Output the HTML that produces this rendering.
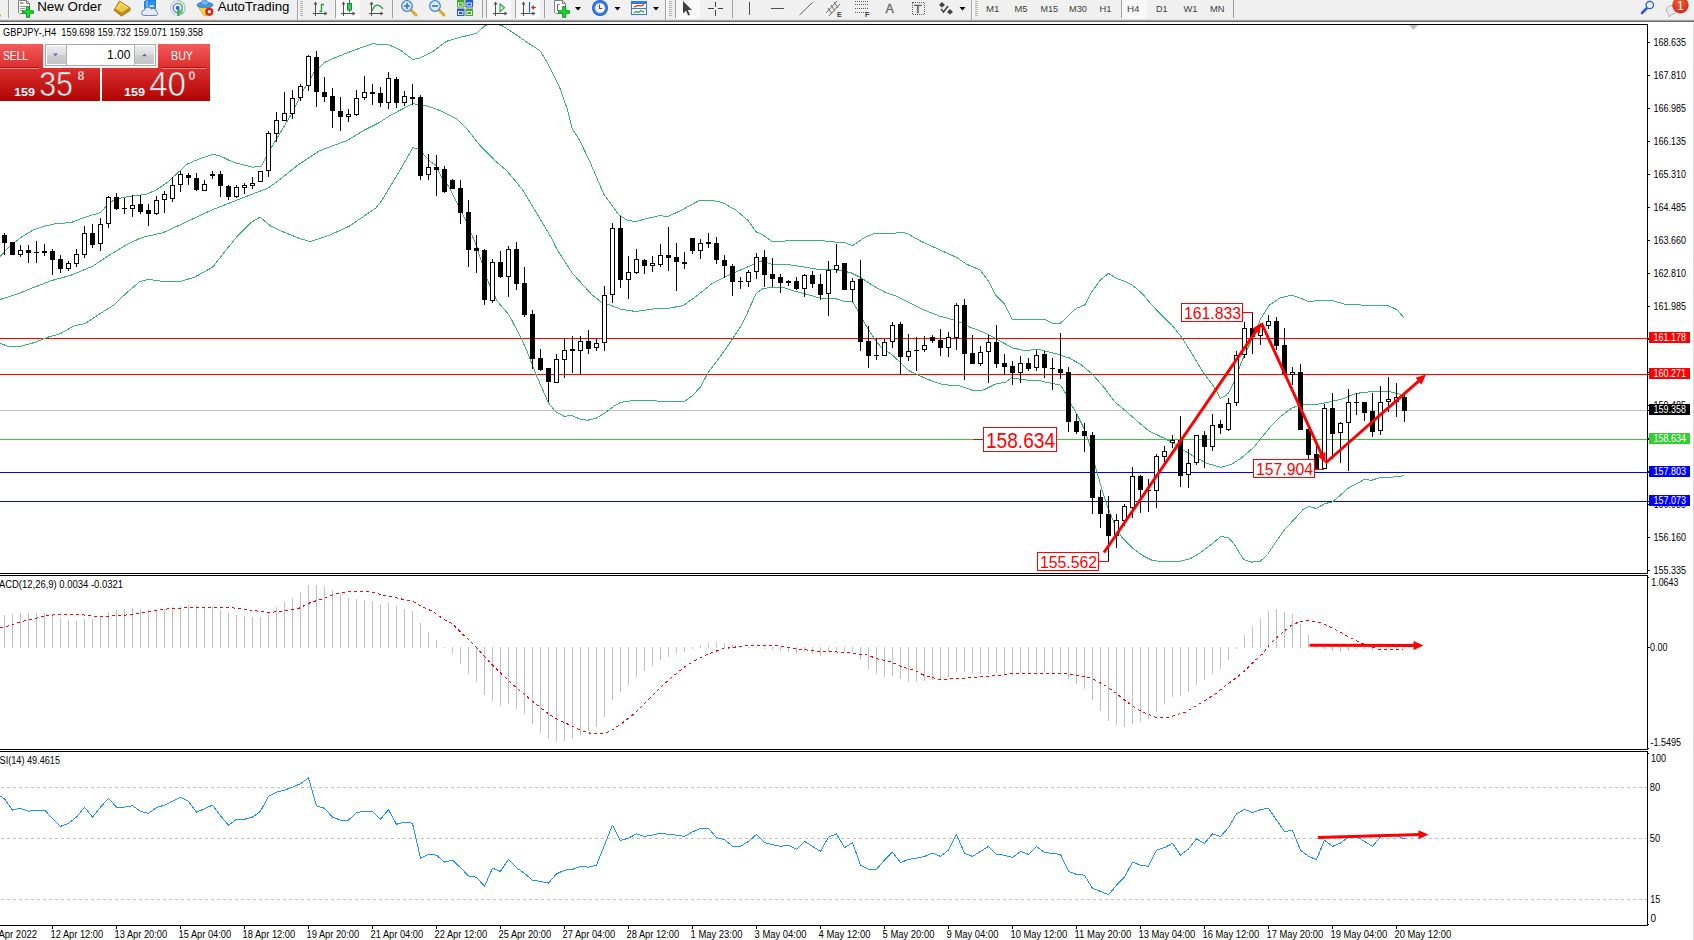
<!DOCTYPE html>
<html><head><meta charset="utf-8"><title>GBPJPY H4</title>
<style>html,body{margin:0;padding:0;background:#fff;overflow:hidden}svg{display:block}</style>
</head><body>
<svg width="1694" height="940" viewBox="0 0 1694 940" font-family='"Liberation Sans", sans-serif'>
<defs>
<linearGradient id="gred" gradientUnits="userSpaceOnUse" x1="0" y1="44" x2="0" y2="101"><stop offset="0" stop-color="#f45a5a"/><stop offset="0.42" stop-color="#dc2e2e"/><stop offset="1" stop-color="#b00404"/></linearGradient>
<linearGradient id="gbtn" x1="0" y1="0" x2="0" y2="1"><stop offset="0" stop-color="#ececec"/><stop offset="0.5" stop-color="#dcdcdc"/><stop offset="0.5" stop-color="#cfcfcf"/><stop offset="1" stop-color="#c4c4c4"/></linearGradient>
<radialGradient id="gbadge" cx="0.45" cy="0.3" r="0.8"><stop offset="0" stop-color="#f0603a"/><stop offset="1" stop-color="#d41f10"/></radialGradient>
<clipPath id="cmain"><rect x="0" y="25" width="1647" height="548"/></clipPath>
<clipPath id="cmacd"><rect x="0" y="576" width="1647" height="173"/></clipPath>
<clipPath id="crsi"><rect x="0" y="752" width="1647" height="173"/></clipPath>
</defs>
<rect width="1694" height="940" fill="#fff"/>
<g clip-path="url(#cmain)">
<g shape-rendering="crispEdges">
<rect x="0" y="338" width="1647" height="1" fill="#ff0000"/>
<rect x="0" y="374" width="1647" height="1" fill="#ff0000"/>
<rect x="0" y="410" width="1647" height="1" fill="#c0c0c0"/>
<rect x="0" y="439" width="1647" height="1" fill="#32cd32"/>
<rect x="0" y="472" width="1647" height="1" fill="#0000ff"/>
<rect x="0" y="501" width="1647" height="1" fill="#0000ff"/>
</g>
<polyline points="0.0,256.7 8.9,246.9 21.3,237.2 34.0,229.6 44.3,226.2 56.7,223.4 70.8,222.7 81.7,218.5 92.0,215.1 100.5,212.6 109.0,203.2 115.8,199.0 129.4,196.4 146.4,194.4 156.7,189.6 166.9,182.8 177.1,173.4 187.3,164.1 199.2,158.9 212.8,154.3 220.0,155.9 234.0,162.6 252.8,167.2 261.3,166.0 271.5,147.3 276.6,138.8 280.0,133.3 290.6,115.6 303.0,90.8 313.6,73.1 324.3,62.5 338.4,56.3 354.4,50.1 372.1,43.9 388.0,44.4 400.4,50.1 412.8,59.5 419.9,58.1 432.3,51.9 446.5,41.3 460.6,37.2 476.6,33.3 485.4,25.3 493.0,24.0 501.4,25.3 515.5,34.2 527.9,43.0 540.3,51.0 549.2,66.0 559.8,88.0 566.9,108.0 572.2,128.5 580.3,141.5 590.5,163.2 604.1,194.7 610.0,202.6 618.5,214.5 627.0,220.1 635.5,221.6 647.5,218.4 659.4,215.7 667.9,216.5 681.5,210.2 698.5,200.9 712.2,200.3 722.4,202.6 736.0,210.2 747.9,220.4 756.4,232.0 763.2,234.9 771.8,241.4 788.8,240.9 805.8,240.0 819.4,240.5 833.6,241.9 845.5,242.8 852.4,245.7 864.3,237.7 874.5,233.4 891.5,233.7 901.7,232.0 908.5,234.3 922.2,241.9 939.2,249.6 956.2,257.2 966.4,264.1 980.1,270.0 988.6,281.1 995.4,294.7 1003.9,303.2 1012.4,319.4 1030.0,319.6 1045.3,319.6 1052.1,323.0 1060.0,323.7 1072.8,311.1 1077.0,308.1 1084.7,305.1 1091.5,292.3 1100.0,280.4 1108.5,273.2 1115.3,277.9 1124.7,281.3 1131.5,284.7 1136.6,288.5 1143.4,294.9 1152.8,306.0 1167.2,320.9 1172.3,325.5 1181.7,337.4 1193.5,356.2 1203.7,373.2 1213.9,386.8 1220.4,398.4 1227.5,394.5 1234.3,381.7 1241.1,363.0 1246.2,351.1 1250.4,342.8 1260.6,318.9 1269.2,305.3 1279.4,298.2 1291.3,295.1 1301.5,298.5 1308.3,301.6 1321.9,300.2 1332.2,300.6 1345.8,304.5 1361.1,305.0 1374.7,305.7 1388.4,305.7 1396.9,309.6 1403.7,317.6" fill="none" stroke="#3cb371" stroke-width="1" stroke-linejoin="round" shape-rendering="crispEdges"/>
<polyline points="0.0,299.5 17.7,293.9 35.4,286.8 51.4,280.6 70.8,275.3 92.1,266.4 109.8,254.9 127.5,244.3 141.7,237.5 162.9,232.8 185.9,222.1 212.5,209.7 239.2,199.2 268.1,188.1 280.0,179.4 297.7,165.2 319.0,151.0 347.3,140.4 365.0,129.8 379.2,122.7 389.8,115.6 412.8,103.6 427.0,105.9 439.4,110.3 457.1,119.2 467.7,129.8 480.1,145.7 496.0,161.7 507.0,170.9 522.4,189.6 539.4,217.7 551.6,238.2 556.4,248.3 571.8,272.6 592.0,294.8 601.1,301.9 612.2,305.9 620.3,309.0 635.5,311.5 652.6,309.0 669.6,308.1 683.2,305.6 695.1,297.1 712.2,283.4 725.8,276.6 742.8,269.0 754.7,263.9 761.5,261.0 771.8,264.4 788.8,264.7 805.8,267.3 819.4,269.5 837.0,270.0 850.6,272.6 860.9,277.7 871.1,284.5 884.7,292.1 894.9,295.6 908.5,302.4 922.2,309.2 939.2,316.0 952.8,319.7 961.3,322.8 969.8,327.1 983.5,332.2 992.0,336.4 1003.9,343.2 1012.4,347.8 1024.3,350.6 1038.5,349.4 1055.5,353.6 1069.2,357.9 1081.1,364.7 1093.0,374.9 1104.9,388.5 1115.1,402.2 1125.4,410.7 1139.0,422.6 1149.2,431.1 1166.2,439.2 1176.4,445.0 1183.2,450.0 1193.5,456.2 1207.1,463.4 1220.7,467.3 1230.9,464.6 1241.1,458.3 1250.0,450.6 1253.8,447.2 1264.1,434.5 1270.9,426.2 1281.1,416.0 1291.3,408.3 1301.5,404.1 1315.1,404.9 1328.8,402.0 1342.4,399.0 1352.6,394.7 1362.8,392.2 1376.4,391.7 1388.4,391.3 1398.6,393.9 1403.7,396.4" fill="none" stroke="#3cb371" stroke-width="1" stroke-linejoin="round" shape-rendering="crispEdges"/>
<polyline points="0.0,343.4 8.9,346.6 21.3,346.1 35.4,342.2 47.8,337.2 60.2,333.7 74.4,325.7 85.0,323.6 99.2,314.2 113.3,305.4 127.5,292.1 139.9,281.5 148.8,279.3 162.9,281.5 180.6,281.5 194.8,277.0 212.5,267.3 224.9,251.4 237.3,236.3 251.5,222.1 260.0,217.2 270.9,226.2 283.3,231.9 300.0,238.6 309.9,241.6 330.0,235.0 349.5,226.1 375.9,207.9 382.2,200.0 397.5,174.5 412.8,147.9 418.1,148.4 430.5,161.7 435.5,164.9 442.9,179.4 449.2,187.0 459.4,207.5 465.6,220.0 476.7,246.3 486.8,278.6 497.0,300.9 509.1,315.0 521.2,338.3 527.1,351.3 535.9,374.3 548.3,402.6 555.4,411.5 564.3,416.4 571.4,415.4 580.2,419.1 587.3,420.3 596.1,418.2 605.0,412.9 613.9,406.1 620.9,402.3 633.3,400.5 656.4,400.5 658.1,401.4 684.7,401.4 693.5,394.6 700.6,386.7 707.7,373.4 718.3,359.2 727.5,346.4 734.3,336.2 741.1,326.0 746.2,315.8 751.3,303.9 756.4,293.3 763.2,288.5 771.8,287.3 783.7,287.7 797.3,291.9 810.9,295.4 821.1,298.4 833.6,298.1 843.8,301.2 852.4,301.5 857.5,310.0 864.3,322.8 874.5,339.0 881.3,347.5 891.5,354.3 900.0,362.0 908.5,370.5 917.1,374.7 929.0,379.8 942.6,384.6 959.6,385.8 971.5,390.0 977.0,391.0 983.5,390.0 995.4,384.1 1005.6,382.1 1011.6,377.8 1024.3,379.8 1040.2,380.9 1052.1,383.4 1060.6,385.1 1065.8,393.7 1070.9,403.9 1077.7,415.8 1084.5,429.4 1089.6,444.7 1094.7,464.3 1101.5,488.1 1108.3,508.5 1115.1,525.6 1121.9,537.5 1132.2,547.7 1142.4,555.4 1152.6,560.5 1162.8,561.7 1179.8,561.3 1190.1,558.8 1200.3,552.8 1210.5,545.1 1220.7,536.6 1228.4,537.5 1234.3,544.3 1243.6,559.6 1252.1,562.2 1260.6,561.0 1267.5,554.5 1276.0,541.7 1284.5,529.8 1294.7,518.8 1303.2,509.4 1309.2,506.3 1316.0,508.5 1325.4,503.4 1332.2,502.1 1340.7,494.9 1349.2,487.3 1357.7,483.3 1364.5,479.3 1371.3,480.4 1379.8,477.6 1393.5,477.0 1403.7,475.8" fill="none" stroke="#3cb371" stroke-width="1" stroke-linejoin="round" shape-rendering="crispEdges"/>
<g shape-rendering="crispEdges">
<path d="M4 233h1v22h-1zM12 242h1v13h-1zM20 245h1v12h-1zM28 245h1v18h-1zM36 241h1v22h-1zM44 244h1v12h-1zM52 249h1v26h-1zM60 255h1v18h-1zM68 261h1v10h-1zM76 249h1v18h-1zM84 226h1v32h-1zM92 224h1v24h-1zM100 218h1v33h-1zM108 196h1v32h-1zM116 193h1v17h-1zM124 198h1v16h-1zM132 195h1v22h-1zM140 195h1v19h-1zM148 204h1v22h-1zM156 196h1v19h-1zM164 191h1v22h-1zM172 177h1v25h-1zM180 171h1v21h-1zM188 173h1v12h-1zM196 173h1v18h-1zM204 180h1v11h-1zM212 171h1v8h-1zM220 171h1v26h-1zM228 185h1v15h-1zM236 185h1v13h-1zM244 183h1v11h-1zM252 177h1v12h-1zM260 171h1v11h-1zM268 131h1v46h-1zM276 112h1v30h-1zM284 92h1v29h-1zM292 90h1v29h-1zM300 84h1v17h-1zM308 55h1v36h-1zM316 51h1v56h-1zM324 77h1v25h-1zM332 88h1v40h-1zM340 97h1v34h-1zM348 109h1v13h-1zM356 90h1v26h-1zM364 76h1v24h-1zM372 84h1v21h-1zM380 87h1v20h-1zM388 72h1v37h-1zM396 77h1v31h-1zM404 91h1v15h-1zM412 84h1v21h-1zM420 95h1v85h-1zM428 154h1v26h-1zM436 155h1v41h-1zM444 166h1v27h-1zM452 179h1v10h-1zM460 180h1v44h-1zM468 200h1v67h-1zM476 235h1v38h-1zM484 249h1v56h-1zM492 259h1v44h-1zM500 251h1v27h-1zM508 246h1v51h-1zM516 242h1v48h-1zM524 267h1v50h-1zM532 310h1v59h-1zM540 349h1v22h-1zM548 368h1v34h-1zM556 354h1v29h-1zM564 338h1v40h-1zM572 336h1v37h-1zM580 336h1v38h-1zM588 330h1v24h-1zM596 339h1v12h-1zM604 286h1v65h-1zM612 223h1v80h-1zM620 216h1v72h-1zM628 256h1v43h-1zM636 249h1v25h-1zM644 259h1v15h-1zM652 256h1v16h-1zM660 244h1v23h-1zM668 227h1v44h-1zM676 243h1v48h-1zM684 252h1v17h-1zM692 238h1v16h-1zM700 239h1v20h-1zM708 233h1v15h-1zM716 237h1v27h-1zM724 255h1v23h-1zM732 264h1v32h-1zM740 277h1v12h-1zM748 270h1v17h-1zM756 253h1v26h-1zM764 250h1v37h-1zM772 258h1v29h-1zM780 274h1v19h-1zM788 280h1v6h-1zM796 277h1v13h-1zM804 274h1v23h-1zM812 271h1v17h-1zM820 274h1v26h-1zM828 261h1v55h-1zM836 244h1v29h-1zM844 263h1v27h-1zM852 278h1v24h-1zM860 260h1v91h-1zM868 326h1v42h-1zM876 338h1v22h-1zM884 339h1v17h-1zM892 322h1v26h-1zM900 322h1v52h-1zM908 334h1v27h-1zM916 337h1v34h-1zM924 336h1v16h-1zM932 335h1v8h-1zM940 329h1v27h-1zM948 332h1v25h-1zM956 303h1v47h-1zM964 299h1v81h-1zM972 335h1v29h-1zM980 346h1v20h-1zM988 335h1v48h-1zM996 325h1v43h-1zM1004 354h1v21h-1zM1012 361h1v24h-1zM1020 356h1v27h-1zM1028 358h1v13h-1zM1036 350h1v21h-1zM1044 351h1v27h-1zM1052 358h1v32h-1zM1060 333h1v46h-1zM1068 367h1v65h-1zM1076 414h1v20h-1zM1084 423h1v29h-1zM1092 432h1v82h-1zM1100 490h1v38h-1zM1108 496h1v65h-1zM1116 514h1v34h-1zM1124 504h1v22h-1zM1132 467h1v51h-1zM1140 475h1v38h-1zM1148 479h1v33h-1zM1156 454h1v54h-1zM1164 446h1v17h-1zM1172 435h1v13h-1zM1180 416h1v71h-1zM1188 449h1v39h-1zM1196 435h1v30h-1zM1204 431h1v37h-1zM1212 414h1v37h-1zM1220 420h1v14h-1zM1228 398h1v33h-1zM1236 351h1v55h-1zM1244 322h1v36h-1zM1252 312h1v42h-1zM1260 324h1v21h-1zM1268 315h1v14h-1zM1276 317h1v33h-1zM1284 328h1v46h-1zM1292 367h1v18h-1zM1300 364h1v66h-1zM1308 426h1v36h-1zM1316 444h1v26h-1zM1324 404h1v65h-1zM1332 393h1v66h-1zM1340 422h1v41h-1zM1348 389h1v82h-1zM1356 393h1v22h-1zM1364 402h1v19h-1zM1372 393h1v44h-1zM1380 386h1v49h-1zM1388 377h1v35h-1zM1396 383h1v34h-1zM1404 395h1v27h-1zM2 235h5v8h-5zM10 242h5v13h-5zM18 250h5v5h-5zM26 250h5v3h-5zM34 252h5v1h-5zM42 251h5v2h-5zM50 251h5v9h-5zM58 259h5v10h-5zM66 263h5v6h-5zM74 254h5v10h-5zM82 233h5v22h-5zM90 233h5v12h-5zM98 224h5v20h-5zM106 197h5v27h-5zM114 197h5v12h-5zM122 208h5v1h-5zM130 205h5v4h-5zM138 204h5v8h-5zM146 210h5v4h-5zM154 200h5v14h-5zM162 194h5v6h-5zM170 185h5v14h-5zM178 174h5v11h-5zM186 175h5v3h-5zM194 178h5v12h-5zM202 184h5v7h-5zM210 174h5v2h-5zM218 174h5v12h-5zM226 186h5v11h-5zM234 187h5v10h-5zM242 185h5v3h-5zM250 183h5v3h-5zM258 171h5v11h-5zM266 133h5v38h-5zM274 120h5v14h-5zM282 113h5v8h-5zM290 98h5v16h-5zM298 86h5v12h-5zM306 56h5v30h-5zM314 57h5v35h-5zM322 92h5v5h-5zM330 96h5v15h-5zM338 111h5v6h-5zM346 114h5v3h-5zM354 98h5v17h-5zM362 92h5v6h-5zM370 92h5v2h-5zM378 93h5v10h-5zM386 78h5v25h-5zM394 79h5v24h-5zM402 96h5v7h-5zM410 97h5v2h-5zM418 97h5v79h-5zM426 167h5v8h-5zM434 167h5v3h-5zM442 169h5v23h-5zM450 180h5v9h-5zM458 188h5v25h-5zM466 212h5v38h-5zM474 248h5v3h-5zM482 250h5v50h-5zM490 262h5v39h-5zM498 262h5v15h-5zM506 249h5v28h-5zM514 249h5v35h-5zM522 283h5v32h-5zM530 314h5v45h-5zM538 358h5v12h-5zM546 368h5v14h-5zM554 359h5v24h-5zM562 350h5v10h-5zM570 349h5v2h-5zM578 341h5v10h-5zM586 341h5v8h-5zM594 343h5v5h-5zM602 295h5v48h-5zM610 228h5v67h-5zM618 228h5v52h-5zM626 272h5v8h-5zM634 259h5v14h-5zM642 260h5v6h-5zM650 263h5v3h-5zM658 255h5v10h-5zM666 255h5v3h-5zM674 257h5v5h-5zM682 262h5v2h-5zM690 238h5v13h-5zM698 243h5v8h-5zM706 242h5v2h-5zM714 243h5v17h-5zM722 260h5v6h-5zM730 266h5v16h-5zM738 281h5v1h-5zM746 272h5v10h-5zM754 257h5v15h-5zM762 257h5v18h-5zM770 274h5v5h-5zM778 277h5v6h-5zM786 281h5v2h-5zM794 281h5v8h-5zM802 275h5v14h-5zM810 275h5v9h-5zM818 284h5v11h-5zM826 270h5v24h-5zM834 265h5v5h-5zM842 263h5v27h-5zM850 281h5v9h-5zM858 279h5v63h-5zM866 341h5v15h-5zM874 355h5v1h-5zM882 342h5v14h-5zM890 325h5v17h-5zM898 324h5v33h-5zM906 351h5v6h-5zM914 350h5v1h-5zM922 345h5v5h-5zM930 337h5v4h-5zM938 340h5v8h-5zM946 337h5v11h-5zM954 305h5v33h-5zM962 305h5v49h-5zM970 353h5v11h-5zM978 352h5v12h-5zM986 342h5v10h-5zM994 342h5v22h-5zM1002 363h5v4h-5zM1010 366h5v7h-5zM1018 363h5v10h-5zM1026 363h5v6h-5zM1034 355h5v13h-5zM1042 354h5v14h-5zM1050 368h5v1h-5zM1058 369h5v4h-5zM1066 372h5v50h-5zM1074 421h5v11h-5zM1082 431h5v5h-5zM1090 435h5v63h-5zM1098 497h5v17h-5zM1106 514h5v22h-5zM1114 520h5v16h-5zM1122 506h5v15h-5zM1130 476h5v32h-5zM1138 476h5v14h-5zM1146 490h5v1h-5zM1154 456h5v35h-5zM1162 451h5v6h-5zM1170 440h5v3h-5zM1178 440h5v36h-5zM1186 463h5v12h-5zM1194 435h5v28h-5zM1202 435h5v12h-5zM1210 425h5v22h-5zM1218 424h5v4h-5zM1226 403h5v27h-5zM1234 355h5v48h-5zM1242 328h5v27h-5zM1250 328h5v9h-5zM1258 326h5v10h-5zM1266 321h5v5h-5zM1274 321h5v25h-5zM1282 345h5v29h-5zM1290 372h5v3h-5zM1298 372h5v58h-5zM1306 429h5v26h-5zM1314 454h5v15h-5zM1322 408h5v61h-5zM1330 408h5v26h-5zM1338 423h5v10h-5zM1346 402h5v21h-5zM1354 402h5v1h-5zM1362 402h5v11h-5zM1370 411h5v21h-5zM1378 402h5v29h-5zM1386 399h5v3h-5zM1394 397h5v5h-5zM1402 397h5v14h-5z" fill="#000"/>
<path d="M19 251h3v3h-3zM67 264h3v4h-3zM75 255h3v8h-3zM83 234h3v20h-3zM99 225h3v18h-3zM107 198h3v25h-3zM131 206h3v2h-3zM155 201h3v12h-3zM163 195h3v4h-3zM171 186h3v12h-3zM179 175h3v9h-3zM203 185h3v5h-3zM235 188h3v8h-3zM243 186h3v1h-3zM251 184h3v1h-3zM259 172h3v9h-3zM267 134h3v36h-3zM275 121h3v12h-3zM283 114h3v6h-3zM291 99h3v14h-3zM299 87h3v10h-3zM307 57h3v28h-3zM347 115h3v1h-3zM355 99h3v15h-3zM363 93h3v4h-3zM387 79h3v23h-3zM403 97h3v5h-3zM427 168h3v6h-3zM491 263h3v37h-3zM507 250h3v26h-3zM555 360h3v22h-3zM563 351h3v8h-3zM579 342h3v8h-3zM595 344h3v3h-3zM603 296h3v46h-3zM611 229h3v65h-3zM627 273h3v6h-3zM635 260h3v12h-3zM651 264h3v1h-3zM659 256h3v8h-3zM699 244h3v6h-3zM747 273h3v8h-3zM755 258h3v13h-3zM803 276h3v12h-3zM827 271h3v22h-3zM835 266h3v3h-3zM851 282h3v7h-3zM883 343h3v12h-3zM891 326h3v15h-3zM907 352h3v4h-3zM923 346h3v3h-3zM947 338h3v9h-3zM955 306h3v31h-3zM979 353h3v10h-3zM987 343h3v8h-3zM1019 364h3v8h-3zM1035 356h3v11h-3zM1115 521h3v14h-3zM1123 507h3v13h-3zM1131 477h3v30h-3zM1155 457h3v33h-3zM1163 452h3v4h-3zM1171 441h3v1h-3zM1187 464h3v10h-3zM1195 436h3v26h-3zM1211 426h3v20h-3zM1227 404h3v25h-3zM1235 356h3v46h-3zM1243 329h3v25h-3zM1259 327h3v8h-3zM1267 322h3v3h-3zM1291 373h3v1h-3zM1323 409h3v59h-3zM1339 424h3v8h-3zM1347 403h3v19h-3zM1379 403h3v27h-3zM1387 400h3v1h-3zM1395 398h3v3h-3z" fill="#fff"/>
</g>
</g>
<path d="M1409 25h9l-4.5 5z" fill="#c0c0c0"/>
<rect x="1181.5" y="303.5" width="61" height="18" fill="#fff" stroke="#ff0000" stroke-width="1" shape-rendering="crispEdges"/>
<text x="1184" y="319" font-size="17" fill="#ff0000" textLength="57" lengthAdjust="spacingAndGlyphs" >161.833</text>
<path d="M1242.5 312.5H1252.5" stroke="#ff0000" stroke-width="1" shape-rendering="crispEdges"/>
<path d="M973 439.5H983.5" stroke="#ff0000" stroke-width="1" shape-rendering="crispEdges"/>
<rect x="983.5" y="427.5" width="73" height="24" fill="#fff" stroke="#ff0000" stroke-width="1" shape-rendering="crispEdges"/>
<text x="986" y="448" font-size="22" fill="#ff0000" textLength="69" lengthAdjust="spacingAndGlyphs" >158.634</text>
<rect x="1037.5" y="552.5" width="61" height="18" fill="#fff" stroke="#ff0000" stroke-width="1" shape-rendering="crispEdges"/>
<text x="1040" y="568" font-size="17" fill="#ff0000" textLength="57" lengthAdjust="spacingAndGlyphs" >155.562</text>
<path d="M1098.5 561.5H1108.5" stroke="#ff0000" stroke-width="1" shape-rendering="crispEdges"/>
<rect x="1253.5" y="459.5" width="61" height="18" fill="#fff" stroke="#ff0000" stroke-width="1" shape-rendering="crispEdges"/>
<text x="1256" y="475" font-size="17" fill="#ff0000" textLength="57" lengthAdjust="spacingAndGlyphs" >157.904</text>
<path d="M1314.5 469.5H1324" stroke="#ff0000" stroke-width="1" shape-rendering="crispEdges"/>
<path d="M1104.0 552.5L1257.0 329.6" stroke="#ff0000" stroke-width="2.9" stroke-linecap="butt"/>
<path d="M1261.5 323.0L1259.6 333.8L1252.1 328.7z" fill="#ff0000"/>
<path d="M1261.5 323.0L1322.2 455.7" stroke="#ff0000" stroke-width="2.9" stroke-linecap="butt"/>
<path d="M1325.5 463.0L1317.2 455.8L1325.4 452.0z" fill="#ff0000"/>
<path d="M1325.5 463.0L1420.0 379.8" stroke="#ff0000" stroke-width="2.9" stroke-linecap="butt"/>
<path d="M1426.0 374.5L1421.5 384.5L1415.5 377.7z" fill="#ff0000"/>
<g clip-path="url(#cmacd)">
<g shape-rendering="crispEdges">
<path d="M4 615h1v33h-1zM12 614h1v34h-1zM20 613h1v35h-1zM28 613h1v35h-1zM36 613h1v35h-1zM44 613h1v35h-1zM52 614h1v34h-1zM60 618h1v30h-1zM68 620h1v28h-1zM76 621h1v27h-1zM84 619h1v29h-1zM92 619h1v29h-1zM100 617h1v31h-1zM108 612h1v36h-1zM116 610h1v38h-1zM124 609h1v39h-1zM132 608h1v40h-1zM140 609h1v39h-1zM148 610h1v38h-1zM156 610h1v38h-1zM164 609h1v39h-1zM172 607h1v41h-1zM180 606h1v42h-1zM188 605h1v43h-1zM196 606h1v42h-1zM204 607h1v41h-1zM212 607h1v41h-1zM220 610h1v38h-1zM228 613h1v35h-1zM236 615h1v33h-1zM244 616h1v32h-1zM252 617h1v31h-1zM260 617h1v31h-1zM268 612h1v36h-1zM276 607h1v41h-1zM284 602h1v46h-1zM292 598h1v50h-1zM300 592h1v56h-1zM308 585h1v63h-1zM316 585h1v63h-1zM324 586h1v62h-1zM332 590h1v58h-1zM340 594h1v54h-1zM348 598h1v50h-1zM356 599h1v49h-1zM364 600h1v48h-1zM372 601h1v47h-1zM380 604h1v44h-1zM388 603h1v45h-1zM396 606h1v42h-1zM404 609h1v39h-1zM412 611h1v37h-1zM420 623h1v25h-1zM428 632h1v16h-1zM436 640h1v8h-1zM444 647h1v1h-1zM452 647h1v7h-1zM460 647h1v17h-1zM468 647h1v27h-1zM476 647h1v35h-1zM484 647h1v48h-1zM492 647h1v54h-1zM500 647h1v59h-1zM508 647h1v57h-1zM516 647h1v62h-1zM524 647h1v67h-1zM532 647h1v77h-1zM540 647h1v86h-1zM548 647h1v92h-1zM556 647h1v95h-1zM564 647h1v94h-1zM572 647h1v92h-1zM580 647h1v88h-1zM588 647h1v84h-1zM596 647h1v80h-1zM604 647h1v70h-1zM612 647h1v53h-1zM620 647h1v45h-1zM628 647h1v38h-1zM636 647h1v30h-1zM644 647h1v24h-1zM652 647h1v19h-1zM660 647h1v13h-1zM668 647h1v10h-1zM676 647h1v7h-1zM684 647h1v5h-1zM692 647h1v2h-1zM700 645h1v3h-1zM708 643h1v5h-1zM716 642h1v6h-1zM724 643h1v5h-1zM732 645h1v3h-1zM740 646h1v2h-1zM748 647h1v1h-1zM756 647h1v1h-1zM764 647h1v2h-1zM772 647h1v3h-1zM780 647h1v4h-1zM788 647h1v5h-1zM796 647h1v7h-1zM804 647h1v5h-1zM812 647h1v7h-1zM820 647h1v9h-1zM828 647h1v5h-1zM836 647h1v5h-1zM844 647h1v5h-1zM852 647h1v5h-1zM860 647h1v13h-1zM868 647h1v22h-1zM876 647h1v27h-1zM884 647h1v30h-1zM892 647h1v29h-1zM900 647h1v32h-1zM908 647h1v35h-1zM916 647h1v35h-1zM924 647h1v34h-1zM932 647h1v33h-1zM940 647h1v32h-1zM948 647h1v30h-1zM956 647h1v25h-1zM964 647h1v25h-1zM972 647h1v27h-1zM980 647h1v27h-1zM988 647h1v27h-1zM996 647h1v26h-1zM1004 647h1v27h-1zM1012 647h1v28h-1zM1020 647h1v26h-1zM1028 647h1v27h-1zM1036 647h1v26h-1zM1044 647h1v25h-1zM1052 647h1v26h-1zM1060 647h1v25h-1zM1068 647h1v32h-1zM1076 647h1v37h-1zM1084 647h1v42h-1zM1092 647h1v53h-1zM1100 647h1v64h-1zM1108 647h1v74h-1zM1116 647h1v78h-1zM1124 647h1v80h-1zM1132 647h1v77h-1zM1140 647h1v75h-1zM1148 647h1v72h-1zM1156 647h1v65h-1zM1164 647h1v57h-1zM1172 647h1v50h-1zM1180 647h1v49h-1zM1188 647h1v45h-1zM1196 647h1v38h-1zM1204 647h1v33h-1zM1212 647h1v27h-1zM1220 647h1v22h-1zM1228 647h1v13h-1zM1236 647h1v2h-1zM1244 635h1v13h-1zM1252 626h1v22h-1zM1260 618h1v30h-1zM1268 611h1v37h-1zM1276 609h1v39h-1zM1284 612h1v36h-1zM1292 614h1v34h-1zM1300 624h1v24h-1zM1308 635h1v13h-1zM1316 645h1v3h-1zM1324 647h1v2h-1zM1332 647h1v4h-1zM1340 647h1v5h-1zM1348 647h1v4h-1zM1356 647h1v2h-1zM1364 647h1v2h-1zM1372 647h1v4h-1zM1380 647h1v2h-1zM1388 647h1v2h-1zM1396 647h1v2h-1zM1404 647h1v2h-1z" fill="#c0c0c0"/>
</g>
<polyline points="0.0,627.6 10.0,625.6 20.0,622.0 37.5,618.0 45.0,615.8 60.0,614.3 80.0,614.5 95.0,616.3 120.0,615.8 140.0,613.0 162.7,609.3 187.7,607.5 230.3,607.5 250.3,610.0 267.8,612.5 282.9,611.3 297.9,608.8 310.4,602.5 322.9,598.8 332.9,594.5 348.0,591.8 370.5,591.8 383.0,595.0 400.5,598.8 413.0,601.3 420.0,605.8 432.5,611.3 445.0,620.1 452.5,623.8 465.0,636.3 477.6,648.8 490.1,662.6 502.6,675.1 515.1,686.4 532.6,701.4 545.2,711.4 557.7,719.7 570.2,725.2 580.2,730.2 590.2,733.2 600.2,734.0 610.2,731.5 622.8,722.7 635.3,712.7 647.8,700.2 660.3,687.6 672.8,676.4 685.3,666.4 697.8,658.9 710.4,653.1 722.9,648.8 745.4,645.6 775.4,645.1 795.5,648.8 820.5,651.4 840.0,652.1 855.0,653.4 867.5,655.1 877.5,658.9 890.1,661.4 902.6,667.1 915.1,670.6 925.1,675.9 940.1,679.4 960.2,678.4 980.2,676.9 1000.2,675.1 1015.2,673.1 1035.2,673.9 1060.3,673.1 1075.3,675.1 1085.3,676.4 1095.3,680.1 1105.3,685.6 1115.3,692.7 1125.4,700.7 1135.4,708.2 1145.4,713.4 1155.4,717.2 1165.4,718.2 1175.4,715.2 1185.4,712.2 1195.4,706.4 1205.5,700.2 1215.5,693.9 1225.5,685.6 1235.5,678.4 1245.5,670.1 1255.5,660.1 1264.0,652.6 1270.0,643.8 1280.0,634.6 1290.0,626.3 1300.0,621.3 1310.0,620.6 1320.0,622.6 1330.0,626.8 1340.0,632.1 1350.0,637.6 1360.0,642.6 1370.0,646.3 1380.0,649.6 1402.5,649.6" fill="none" stroke="#ff0000" stroke-width="1" stroke-dasharray="3 3" shape-rendering="crispEdges"/>
</g>
<g clip-path="url(#crsi)">
<g shape-rendering="crispEdges">
<path d="M1 787.5H1647" stroke="#c0c0c0" stroke-width="1" stroke-dasharray="3 3"/>
<path d="M1 838.5H1647" stroke="#c0c0c0" stroke-width="1" stroke-dasharray="3 3"/>
<path d="M1 899.5H1647" stroke="#c0c0c0" stroke-width="1" stroke-dasharray="3 3"/>
</g>
<polyline points="-3.5,793.5 4.5,798.8 12.5,810.1 20.5,808.3 28.5,811.3 36.5,810.1 44.5,810.1 52.5,818.3 60.5,826.4 68.5,823.3 76.5,817.1 84.5,807.1 92.5,817.1 100.5,807.1 108.5,798.3 116.5,807.1 124.5,807.1 132.5,805.8 140.5,811.3 148.5,813.3 156.5,807.6 164.5,805.1 172.5,801.3 180.5,797.1 188.5,801.3 196.5,812.1 204.5,808.8 212.5,805.1 220.5,815.8 228.5,825.1 236.5,819.3 244.5,819.3 252.5,817.1 260.5,811.3 268.5,796.3 276.5,792.1 284.5,790.1 292.5,787.1 300.5,783.8 308.5,778.0 316.5,805.8 324.5,808.3 332.5,817.1 340.5,820.1 348.5,820.1 356.5,812.6 364.5,811.3 372.5,811.3 380.5,819.3 388.5,809.6 396.5,824.3 404.5,822.1 412.5,823.3 420.5,858.1 428.5,854.4 436.5,855.1 444.5,862.1 452.5,860.1 460.5,867.7 468.5,875.9 476.5,877.2 484.5,886.4 492.5,868.2 500.5,871.4 508.5,859.4 516.5,867.7 524.5,873.4 532.5,880.2 540.5,881.4 548.5,883.2 556.5,873.9 564.5,870.2 572.5,869.4 580.5,866.4 588.5,867.2 596.5,865.2 604.5,845.1 612.5,825.1 620.5,840.6 628.5,838.1 636.5,833.9 644.5,836.4 652.5,835.1 660.5,833.1 668.5,834.4 676.5,835.1 684.5,836.4 692.5,831.9 700.5,828.4 708.5,828.4 716.5,837.6 724.5,839.6 732.5,846.4 740.5,846.4 748.5,841.4 756.5,834.4 764.5,842.6 772.5,844.6 780.5,846.4 788.5,845.1 796.5,849.4 804.5,841.4 812.5,846.4 820.5,851.4 828.5,837.1 836.5,833.9 844.5,847.6 852.5,842.6 860.5,865.2 868.5,869.4 876.5,869.4 884.5,860.1 892.5,852.1 900.5,862.6 908.5,859.4 916.5,858.1 924.5,856.4 932.5,853.1 940.5,856.4 948.5,850.1 956.5,834.4 964.5,853.4 972.5,856.4 980.5,851.4 988.5,846.4 996.5,854.4 1004.5,855.1 1012.5,857.6 1020.5,851.4 1028.5,854.4 1036.5,846.4 1044.5,852.6 1052.5,853.4 1060.5,854.4 1068.5,871.4 1076.5,874.4 1084.5,875.2 1092.5,888.4 1100.5,891.4 1108.5,894.7 1116.5,885.2 1124.5,876.9 1132.5,862.1 1140.5,865.2 1148.5,866.4 1156.5,850.1 1164.5,847.6 1172.5,843.4 1180.5,855.1 1188.5,848.9 1196.5,838.9 1204.5,843.4 1212.5,833.9 1220.5,836.4 1228.5,827.6 1236.5,813.8 1244.5,809.3 1252.5,812.6 1260.5,809.6 1268.5,808.1 1276.5,820.1 1284.5,831.4 1292.5,830.6 1300.5,850.1 1308.5,856.4 1316.5,859.6 1324.5,840.1 1332.5,846.4 1340.5,843.1 1348.5,837.1 1356.5,836.4 1364.5,841.4 1372.5,846.4 1380.5,837.1 1388.5,835.1 1396.5,835.6 1404.5,838.9" fill="none" stroke="#1e90ff" stroke-width="1" stroke-linejoin="round" shape-rendering="crispEdges"/>
</g>
<path d="M1309.5 645.3L1415.5 645.5" stroke="#ff0000" stroke-width="3" stroke-linecap="butt"/>
<path d="M1423.5 645.5L1413.5 650.0L1413.5 641.0z" fill="#ff0000"/>
<path d="M1318.0 837.6L1420.5 834.6" stroke="#ff0000" stroke-width="3" stroke-linecap="butt"/>
<path d="M1428.5 834.4L1418.6 839.2L1418.4 830.2z" fill="#ff0000"/>
<g shape-rendering="crispEdges" fill="#000">
<rect x="0" y="24" width="1648" height="1"/>
<rect x="1647" y="24" width="1" height="550"/>
<rect x="1647" y="575" width="1" height="175"/>
<rect x="1647" y="751" width="1" height="175"/>
<rect x="0" y="573" width="1648" height="1"/>
<rect x="0" y="575" width="1648" height="1"/>
<rect x="0" y="749" width="1648" height="1"/>
<rect x="0" y="751" width="1648" height="1"/>
<rect x="0" y="925" width="1648" height="1"/>
<rect x="1648" y="42" width="2" height="1"/>
<rect x="1648" y="75" width="2" height="1"/>
<rect x="1648" y="108" width="2" height="1"/>
<rect x="1648" y="141" width="2" height="1"/>
<rect x="1648" y="174" width="2" height="1"/>
<rect x="1648" y="207" width="2" height="1"/>
<rect x="1648" y="240" width="2" height="1"/>
<rect x="1648" y="273" width="2" height="1"/>
<rect x="1648" y="306" width="2" height="1"/>
<rect x="1648" y="339" width="2" height="1"/>
<rect x="1648" y="372" width="2" height="1"/>
<rect x="1648" y="405" width="2" height="1"/>
<rect x="1648" y="438" width="2" height="1"/>
<rect x="1648" y="471" width="2" height="1"/>
<rect x="1648" y="504" width="2" height="1"/>
<rect x="1648" y="537" width="2" height="1"/>
<rect x="1648" y="570" width="2" height="1"/>
<rect x="1648" y="647" width="2" height="1"/>
<rect x="1648" y="577" width="1" height="1"/>
<rect x="1648" y="748" width="1" height="1"/>
<rect x="1648" y="753" width="1" height="1"/>
<rect x="1648" y="924" width="1" height="1"/>
<rect x="52" y="926" width="1" height="3"/>
<rect x="116" y="926" width="1" height="3"/>
<rect x="180" y="926" width="1" height="3"/>
<rect x="244" y="926" width="1" height="3"/>
<rect x="308" y="926" width="1" height="3"/>
<rect x="372" y="926" width="1" height="3"/>
<rect x="436" y="926" width="1" height="3"/>
<rect x="500" y="926" width="1" height="3"/>
<rect x="564" y="926" width="1" height="3"/>
<rect x="628" y="926" width="1" height="3"/>
<rect x="692" y="926" width="1" height="3"/>
<rect x="756" y="926" width="1" height="3"/>
<rect x="820" y="926" width="1" height="3"/>
<rect x="884" y="926" width="1" height="3"/>
<rect x="948" y="926" width="1" height="3"/>
<rect x="1012" y="926" width="1" height="3"/>
<rect x="1076" y="926" width="1" height="3"/>
<rect x="1140" y="926" width="1" height="3"/>
<rect x="1204" y="926" width="1" height="3"/>
<rect x="1268" y="926" width="1" height="3"/>
<rect x="1332" y="926" width="1" height="3"/>
<rect x="1396" y="926" width="1" height="3"/>
</g>
<rect x="1693" y="22" width="1" height="918" fill="#d8d8d8"/>
<text x="1653.5" y="46" font-size="10" fill="#000" textLength="32.5" lengthAdjust="spacingAndGlyphs" >168.635</text>
<text x="1653.5" y="79" font-size="10" fill="#000" textLength="32.5" lengthAdjust="spacingAndGlyphs" >167.810</text>
<text x="1653.5" y="112" font-size="10" fill="#000" textLength="32.5" lengthAdjust="spacingAndGlyphs" >166.985</text>
<text x="1653.5" y="145" font-size="10" fill="#000" textLength="32.5" lengthAdjust="spacingAndGlyphs" >166.135</text>
<text x="1653.5" y="178" font-size="10" fill="#000" textLength="32.5" lengthAdjust="spacingAndGlyphs" >165.310</text>
<text x="1653.5" y="211" font-size="10" fill="#000" textLength="32.5" lengthAdjust="spacingAndGlyphs" >164.485</text>
<text x="1653.5" y="244" font-size="10" fill="#000" textLength="32.5" lengthAdjust="spacingAndGlyphs" >163.660</text>
<text x="1653.5" y="277" font-size="10" fill="#000" textLength="32.5" lengthAdjust="spacingAndGlyphs" >162.810</text>
<text x="1653.5" y="310" font-size="10" fill="#000" textLength="32.5" lengthAdjust="spacingAndGlyphs" >161.985</text>
<text x="1653.5" y="343" font-size="10" fill="#000" textLength="32.5" lengthAdjust="spacingAndGlyphs" >161.160</text>
<text x="1653.5" y="376" font-size="10" fill="#000" textLength="32.5" lengthAdjust="spacingAndGlyphs" >160.335</text>
<text x="1653.5" y="409" font-size="10" fill="#000" textLength="32.5" lengthAdjust="spacingAndGlyphs" >159.485</text>
<text x="1653.5" y="442" font-size="10" fill="#000" textLength="32.5" lengthAdjust="spacingAndGlyphs" >158.660</text>
<text x="1653.5" y="475" font-size="10" fill="#000" textLength="32.5" lengthAdjust="spacingAndGlyphs" >157.810</text>
<text x="1653.5" y="508" font-size="10" fill="#000" textLength="32.5" lengthAdjust="spacingAndGlyphs" >156.985</text>
<text x="1653.5" y="541" font-size="10" fill="#000" textLength="32.5" lengthAdjust="spacingAndGlyphs" >156.160</text>
<text x="1653.5" y="574" font-size="10" fill="#000" textLength="32.5" lengthAdjust="spacingAndGlyphs" >155.335</text>
<rect x="1649" y="332" width="41" height="11" fill="#ff0000" shape-rendering="crispEdges"/>
<rect x="1648" y="338" width="1" height="1" fill="#000"/>
<text x="1653.5" y="341" font-size="10" fill="#fff" textLength="32.5" lengthAdjust="spacingAndGlyphs" >161.178</text>
<rect x="1649" y="368" width="41" height="11" fill="#ff0000" shape-rendering="crispEdges"/>
<rect x="1648" y="374" width="1" height="1" fill="#000"/>
<text x="1653.5" y="377" font-size="10" fill="#fff" textLength="32.5" lengthAdjust="spacingAndGlyphs" >160.271</text>
<rect x="1649" y="404" width="41" height="11" fill="#000" shape-rendering="crispEdges"/>
<rect x="1648" y="410" width="1" height="1" fill="#000"/>
<text x="1653.5" y="413" font-size="10" fill="#fff" textLength="32.5" lengthAdjust="spacingAndGlyphs" >159.358</text>
<rect x="1649" y="433" width="41" height="11" fill="#32cd32" shape-rendering="crispEdges"/>
<rect x="1648" y="439" width="1" height="1" fill="#000"/>
<text x="1653.5" y="442" font-size="10" fill="#fff" textLength="32.5" lengthAdjust="spacingAndGlyphs" >158.634</text>
<rect x="1649" y="466" width="41" height="11" fill="#0000ff" shape-rendering="crispEdges"/>
<rect x="1648" y="472" width="1" height="1" fill="#000"/>
<text x="1653.5" y="475" font-size="10" fill="#fff" textLength="32.5" lengthAdjust="spacingAndGlyphs" >157.803</text>
<rect x="1649" y="495" width="41" height="11" fill="#0000ff" shape-rendering="crispEdges"/>
<rect x="1648" y="501" width="1" height="1" fill="#000"/>
<text x="1653.5" y="504" font-size="10" fill="#fff" textLength="32.5" lengthAdjust="spacingAndGlyphs" >157.073</text>
<text x="1651.3" y="586" font-size="10" fill="#000" textLength="27" lengthAdjust="spacingAndGlyphs" >1.0643</text>
<text x="1650" y="651" font-size="10" fill="#000" textLength="17.5" lengthAdjust="spacingAndGlyphs" >0.00</text>
<text x="1650.5" y="746" font-size="10" fill="#000" textLength="30.5" lengthAdjust="spacingAndGlyphs" >-1.5495</text>
<text x="1651" y="762" font-size="10" fill="#000" textLength="15" lengthAdjust="spacingAndGlyphs" >100</text>
<text x="1649.7" y="791" font-size="10" fill="#000" textLength="10.4" lengthAdjust="spacingAndGlyphs" >80</text>
<text x="1649.7" y="842" font-size="10" fill="#000" textLength="10.4" lengthAdjust="spacingAndGlyphs" >50</text>
<text x="1650.3" y="903" font-size="10" fill="#000" textLength="10" lengthAdjust="spacingAndGlyphs" >15</text>
<text x="1650.5" y="922" font-size="10" fill="#000" >0</text>
<text x="-13.5" y="938" font-size="10" fill="#000" textLength="50.5" lengthAdjust="spacingAndGlyphs" >11 Apr 2022</text>
<text x="50.5" y="938" font-size="10" fill="#000" textLength="52.7" lengthAdjust="spacingAndGlyphs" >12 Apr 12:00</text>
<text x="114.5" y="938" font-size="10" fill="#000" textLength="52.7" lengthAdjust="spacingAndGlyphs" >13 Apr 20:00</text>
<text x="178.5" y="938" font-size="10" fill="#000" textLength="52.7" lengthAdjust="spacingAndGlyphs" >15 Apr 04:00</text>
<text x="242.5" y="938" font-size="10" fill="#000" textLength="52.7" lengthAdjust="spacingAndGlyphs" >18 Apr 12:00</text>
<text x="306.5" y="938" font-size="10" fill="#000" textLength="52.7" lengthAdjust="spacingAndGlyphs" >19 Apr 20:00</text>
<text x="370.5" y="938" font-size="10" fill="#000" textLength="52.7" lengthAdjust="spacingAndGlyphs" >21 Apr 04:00</text>
<text x="434.5" y="938" font-size="10" fill="#000" textLength="52.7" lengthAdjust="spacingAndGlyphs" >22 Apr 12:00</text>
<text x="498.5" y="938" font-size="10" fill="#000" textLength="52.7" lengthAdjust="spacingAndGlyphs" >25 Apr 20:00</text>
<text x="562.5" y="938" font-size="10" fill="#000" textLength="52.7" lengthAdjust="spacingAndGlyphs" >27 Apr 04:00</text>
<text x="626.5" y="938" font-size="10" fill="#000" textLength="52.7" lengthAdjust="spacingAndGlyphs" >28 Apr 12:00</text>
<text x="690.5" y="938" font-size="10" fill="#000" textLength="52" lengthAdjust="spacingAndGlyphs" >1 May 23:00</text>
<text x="754.5" y="938" font-size="10" fill="#000" textLength="52" lengthAdjust="spacingAndGlyphs" >3 May 04:00</text>
<text x="818.5" y="938" font-size="10" fill="#000" textLength="52" lengthAdjust="spacingAndGlyphs" >4 May 12:00</text>
<text x="882.5" y="938" font-size="10" fill="#000" textLength="52" lengthAdjust="spacingAndGlyphs" >5 May 20:00</text>
<text x="946.5" y="938" font-size="10" fill="#000" textLength="52" lengthAdjust="spacingAndGlyphs" >9 May 04:00</text>
<text x="1010.5" y="938" font-size="10" fill="#000" textLength="56.8" lengthAdjust="spacingAndGlyphs" >10 May 12:00</text>
<text x="1074.5" y="938" font-size="10" fill="#000" textLength="56.8" lengthAdjust="spacingAndGlyphs" >11 May 20:00</text>
<text x="1138.5" y="938" font-size="10" fill="#000" textLength="56.8" lengthAdjust="spacingAndGlyphs" >13 May 04:00</text>
<text x="1202.5" y="938" font-size="10" fill="#000" textLength="56.8" lengthAdjust="spacingAndGlyphs" >16 May 12:00</text>
<text x="1266.5" y="938" font-size="10" fill="#000" textLength="56.8" lengthAdjust="spacingAndGlyphs" >17 May 20:00</text>
<text x="1330.5" y="938" font-size="10" fill="#000" textLength="56.8" lengthAdjust="spacingAndGlyphs" >19 May 04:00</text>
<text x="1394.5" y="938" font-size="10" fill="#000" textLength="56.8" lengthAdjust="spacingAndGlyphs" >20 May 12:00</text>
<text x="-9" y="588" font-size="10" fill="#000" textLength="132" lengthAdjust="spacingAndGlyphs" >MACD(12,26,9) 0.0034 -0.0321</text>
<text x="-7" y="764" font-size="10" fill="#000" textLength="67" lengthAdjust="spacingAndGlyphs" >RSI(14) 49.4615</text>
<text x="3" y="35.8" font-size="10" fill="#000" textLength="200" lengthAdjust="spacingAndGlyphs" >GBPJPY-,H4&#160;&#160;159.698 159.732 159.071 159.358</text>
<g>
<rect x="43" y="44" width="116" height="24" fill="#f4f4f4"/>
<path d="M0 44H43V68H100V101H0z" fill="url(#gred)"/>
<path d="M158 44H210V101H102V68H158z" fill="url(#gred)"/>
<g shape-rendering="crispEdges">
<rect x="0" y="67" width="39" height="1" fill="#a00808" opacity="0.75"/>
<rect x="0" y="68" width="39" height="1" fill="#f8a0a0" opacity="0.8"/>
<rect x="162" y="67" width="44" height="1" fill="#a00808" opacity="0.75"/>
<rect x="162" y="68" width="44" height="1" fill="#f8a0a0" opacity="0.8"/>
<rect x="45.5" y="44.5" width="110" height="21" fill="#fff" stroke="#a8a8a8"/>
<rect x="47" y="46" width="19" height="18" fill="url(#gbtn)"/>
<rect x="135" y="46" width="19" height="18" fill="url(#gbtn)"/>
<rect x="66" y="45" width="1" height="20" fill="#b0b0b0"/>
<rect x="134" y="45" width="1" height="20" fill="#b0b0b0"/>
</g>
<path d="M53 53.500h5l-2.500 2.800z" fill="#5868cc"/>
<path d="M142 56.300h5l-2.500 -2.800z" fill="#5868cc"/>
<text x="3" y="59.5" font-size="13" fill="#fff" textLength="25" lengthAdjust="spacingAndGlyphs" >SELL</text>
<text x="171" y="59.5" font-size="13" fill="#fff" textLength="22" lengthAdjust="spacingAndGlyphs" >BUY</text>
<text x="130.5" y="58.5" font-size="13" fill="#000" text-anchor="end" textLength="23.5" lengthAdjust="spacingAndGlyphs" >1.00</text>
<text x="14" y="96" font-size="11.5" fill="#fff" textLength="21" lengthAdjust="spacingAndGlyphs" font-weight="bold" >159</text>
<text x="39.2" y="96.3" font-size="35" fill="#fff" textLength="33.8" lengthAdjust="spacingAndGlyphs" stroke="url(#gred)" stroke-width="0.700">35</text>
<text x="77.5" y="79.6" font-size="12.5" fill="#fff" font-weight="bold" stroke="url(#gred)" stroke-width="0.400">8</text>
<text x="124" y="96" font-size="11.5" fill="#fff" textLength="21" lengthAdjust="spacingAndGlyphs" font-weight="bold" >159</text>
<text x="149.2" y="96.3" font-size="35" fill="#fff" textLength="36.8" lengthAdjust="spacingAndGlyphs" stroke="url(#gred)" stroke-width="0.700">40</text>
<text x="188.5" y="79.6" font-size="12.5" fill="#fff" font-weight="bold" stroke="url(#gred)" stroke-width="0.400">0</text>
</g>
<g id="toolbar">
<rect x="0" y="0" width="1694" height="20" fill="#f0f0f0"/>
<rect x="0" y="19" width="1694" height="1" fill="#e2e2e2" shape-rendering="crispEdges"/>
<rect x="0" y="20" width="1694" height="1" fill="#a0a0a0" shape-rendering="crispEdges"/>
<rect x="0" y="21" width="1694" height="1" fill="#696969" shape-rendering="crispEdges"/>
<g shape-rendering="crispEdges">
<rect x="8" y="0" width="1" height="18" fill="#a0a0a0"/>
<rect x="335" y="0" width="1" height="18" fill="#a0a0a0"/>
<rect x="392" y="0" width="1" height="18" fill="#a0a0a0"/>
<rect x="482" y="0" width="1" height="18" fill="#a0a0a0"/>
<rect x="486" y="0" width="1" height="18" fill="#a0a0a0"/>
<rect x="515" y="0" width="1" height="18" fill="#a0a0a0"/>
<rect x="544" y="0" width="1" height="18" fill="#a0a0a0"/>
<rect x="675" y="0" width="1" height="18" fill="#a0a0a0"/>
<rect x="732" y="0" width="1" height="18" fill="#a0a0a0"/>
<rect x="1121" y="0" width="1" height="18" fill="#a0a0a0"/>
<rect x="1233" y="0" width="1" height="18" fill="#a0a0a0"/>
<rect x="297" y="0" width="1" height="20" fill="#a0a0a0"/><rect x="298" y="0" width="1" height="20" fill="#fff"/>
<rect x="665" y="0" width="1" height="20" fill="#a0a0a0"/><rect x="666" y="0" width="1" height="20" fill="#fff"/>
<rect x="971" y="0" width="1" height="20" fill="#a0a0a0"/><rect x="972" y="0" width="1" height="20" fill="#fff"/>
<rect x="300" y="1" width="3" height="1" fill="#b4b4b4"/>
<rect x="300" y="3" width="3" height="1" fill="#b4b4b4"/>
<rect x="300" y="5" width="3" height="1" fill="#b4b4b4"/>
<rect x="300" y="7" width="3" height="1" fill="#b4b4b4"/>
<rect x="300" y="9" width="3" height="1" fill="#b4b4b4"/>
<rect x="300" y="11" width="3" height="1" fill="#b4b4b4"/>
<rect x="300" y="13" width="3" height="1" fill="#b4b4b4"/>
<rect x="300" y="15" width="3" height="1" fill="#b4b4b4"/>
<rect x="669" y="1" width="3" height="1" fill="#b4b4b4"/>
<rect x="669" y="3" width="3" height="1" fill="#b4b4b4"/>
<rect x="669" y="5" width="3" height="1" fill="#b4b4b4"/>
<rect x="669" y="7" width="3" height="1" fill="#b4b4b4"/>
<rect x="669" y="9" width="3" height="1" fill="#b4b4b4"/>
<rect x="669" y="11" width="3" height="1" fill="#b4b4b4"/>
<rect x="669" y="13" width="3" height="1" fill="#b4b4b4"/>
<rect x="669" y="15" width="3" height="1" fill="#b4b4b4"/>
<rect x="975" y="1" width="3" height="1" fill="#b4b4b4"/>
<rect x="975" y="3" width="3" height="1" fill="#b4b4b4"/>
<rect x="975" y="5" width="3" height="1" fill="#b4b4b4"/>
<rect x="975" y="7" width="3" height="1" fill="#b4b4b4"/>
<rect x="975" y="9" width="3" height="1" fill="#b4b4b4"/>
<rect x="975" y="11" width="3" height="1" fill="#b4b4b4"/>
<rect x="975" y="13" width="3" height="1" fill="#b4b4b4"/>
<rect x="975" y="15" width="3" height="1" fill="#b4b4b4"/>
<rect x="336" y="0" width="24" height="19" fill="#f8f8f8"/>
<rect x="487" y="0" width="24" height="19" fill="#f8f8f8"/>
<rect x="516" y="0" width="24" height="19" fill="#f8f8f8"/>
<rect x="676" y="0" width="24" height="19" fill="#f8f8f8"/>
<rect x="1122" y="0" width="25" height="19" fill="#f8f8f8"/>
</g>
<path d="M0 14l1 1v1l-1 1z" fill="#e0a030"/>
<path d="M18.500 0.500h8l3 3v9.500l-1 0.500h-9l-1-1z" fill="#fff" stroke="#808080"/>
<path d="M26.500 0.500v3h3" fill="none" stroke="#808080"/>
<path d="M20 3h3.500" stroke="#909090" stroke-width="1.600"/><path d="M20 6.500h6M20 8.500h5M20 10.500h4" stroke="#909090"/>
<path d="M26.450 6.650h3.100v4.200h3.900v2.400h-3.900v4.100h-3.100v-4.100h-4v-2.400h4z" fill="#18e028" stroke="#088a10" stroke-width="0.900"/>
<text x="37.200" y="11.200" font-size="13.300" fill="#000" textLength="64.500" lengthAdjust="spacingAndGlyphs">New Order</text>
<path d="M119.500 1.300l10.500 6.500v2.700l-8.500 5.500-7.500-5.800z" fill="#c89018" stroke="#9a6808" stroke-width="0.900" stroke-linejoin="round"/>
<path d="M119.500 1.300l10.300 6.500-8 5.200-7.300-4.500c2-1.500 4-4 5-7.200z" fill="#f0c840" stroke="#b07c10" stroke-width="0.700" stroke-linejoin="round"/>
<path d="M117 8.500l3.500-5 7 4.300" fill="none" stroke="#fbe890" stroke-width="1.200" opacity="0.800"/>
<path d="M144.500 1.500l2.500-1.500h8.500v8.500h-11z" fill="#2a90f0" stroke="#1868c8" stroke-width="0.800"/>
<path d="M147 0.500v7.500" stroke="#a8d4ff" stroke-width="0.900"/>
<path d="M149.500 5.300h4.500v1.600h-4.500z" fill="#e8f4ff"/>
<path d="M144 15.500a2.600 2.600 0 0 1 0.300-5.200a3.800 3.800 0 0 1 7-1.300a3.200 3.200 0 0 1 5 2.300a2.200 2.200 0 0 1-0.300 4.200z" fill="#e4ebf6" stroke="#5878b0" stroke-width="0.900"/>
<circle cx="177.800" cy="8" r="7.300" fill="none" stroke="#b8c8ea" stroke-width="1.100"/>
<path d="M177.800 0.700a7.300 7.300 0 0 1 0 14.600" fill="none" stroke="#a8d0a8" stroke-width="1.200"/>
<circle cx="177.800" cy="8" r="4.600" fill="none" stroke="#5a80d8" stroke-width="1.300"/>
<path d="M177.800 3.400a4.600 4.600 0 0 1 0 9.200" fill="none" stroke="#60b070" stroke-width="1.300"/>
<path d="M178.500 8.500v7a7.500 7.500 0 0 0 5-3.500z" fill="#58b868" opacity="0.700"/>
<circle cx="177.800" cy="8" r="1.900" fill="#2858d0"/>
<path d="M178.300 8.500v7.500" fill="none" stroke="#20a838" stroke-width="1.600"/>
<path d="M198 6.500l5.500 8.500 3 1 5-9.500z" fill="#f8d840" stroke="#d0a010" stroke-width="0.800" stroke-linejoin="round"/>
<ellipse cx="205" cy="5" rx="8" ry="2.800" fill="#4a9ce0" stroke="#2878c0" stroke-width="0.800"/>
<path d="M201 4.500c0-3 1.500-4.500 3.500-4.500s4 1.500 4 4.500c-2 1-5.500 1-7.500 0z" fill="#78b8f0" stroke="#2878c0" stroke-width="0.700"/>
<circle cx="209.300" cy="11.800" r="4.100" fill="#e02410"/>
<rect x="207.900" y="10.400" width="2.800" height="2.800" fill="#fff"/>
<text x="217.700" y="11.200" font-size="13.300" fill="#000" textLength="71.700" lengthAdjust="spacingAndGlyphs">AutoTrading</text>
<path d="M315.5 3v13M313 13.500h13" stroke="#505050" stroke-width="1" shape-rendering="crispEdges"/>
<path d="M315.5 1.500l-2 3h4zM327.5 13.500l-3-2v4z" fill="#505050"/>
<path d="M319.500 11.500h2v-7h2.500" fill="none" stroke="#20a040" stroke-width="1.400"/>
<path d="M343.5 3v13M341 13.500h13" stroke="#505050" stroke-width="1" shape-rendering="crispEdges"/>
<path d="M343.5 1.500l-2 3h4zM355.5 13.500l-3-2v4z" fill="#505050"/>
<path d="M349.500 0v12" stroke="#108030" stroke-width="1"/>
<rect x="347.500" y="3.500" width="4" height="6.500" fill="#30d050" stroke="#108030" stroke-width="0.9"/>
<path d="M371.5 3v13M369 13.500h13" stroke="#505050" stroke-width="1" shape-rendering="crispEdges"/>
<path d="M371.5 1.500l-2 3h4zM383.5 13.500l-3-2v4z" fill="#505050"/>
<path d="M372 11c3-7 6-8 11-2" fill="none" stroke="#20a040" stroke-width="1.300"/>
<path d="M410.5 9.500l5.500 5.500" stroke="#d8a828" stroke-width="3" stroke-linecap="round"/>
<circle cx="407" cy="6" r="5.300" fill="#d8ecff" stroke="#4a82d8" stroke-width="1.300"/>
<path d="M404 6h6" stroke="#3a72d0" stroke-width="1.600"/>
<path d="M407 3v6" stroke="#3a72d0" stroke-width="1.600"/>
<path d="M438.5 9.500l5.500 5.500" stroke="#d8a828" stroke-width="3" stroke-linecap="round"/>
<circle cx="435" cy="6" r="5.300" fill="#d8ecff" stroke="#4a82d8" stroke-width="1.300"/>
<path d="M432 6h6" stroke="#3a72d0" stroke-width="1.600"/>
<rect x="457" y="0" width="7.500" height="7.500" fill="#48a828"/>
<rect x="458.5" y="3" width="4.500" height="3" fill="none" stroke="#e8f4ff" stroke-width="0.9"/>
<rect x="465.5" y="0" width="7.500" height="7.500" fill="#2858d0"/>
<rect x="467.0" y="3" width="4.500" height="3" fill="none" stroke="#e8f4ff" stroke-width="0.9"/>
<rect x="457" y="8.5" width="7.500" height="7.500" fill="#2858d0"/>
<rect x="458.5" y="11.5" width="4.500" height="3" fill="none" stroke="#e8f4ff" stroke-width="0.9"/>
<rect x="465.5" y="8.5" width="7.500" height="7.500" fill="#48a828"/>
<rect x="467.0" y="11.5" width="4.500" height="3" fill="none" stroke="#e8f4ff" stroke-width="0.9"/>
<path d="M495.5 3v13M493 13.500h13" stroke="#505050" stroke-width="1" shape-rendering="crispEdges"/>
<path d="M495.5 1.500l-2 3h4zM507.5 13.500l-3-2v4z" fill="#505050"/>
<path d="M500 4v7.500l4.500-3.700z" fill="#fff" stroke="#20a040" stroke-width="1.100"/>
<path d="M523.5 3v13M521 13.500h13" stroke="#505050" stroke-width="1" shape-rendering="crispEdges"/>
<path d="M523.5 1.500l-2 3h4zM535.5 13.500l-3-2v4z" fill="#505050"/>
<path d="M529.500 2v10.500" stroke="#2868c0" stroke-width="1.200"/>
<path d="M531 7.500l3-2.500v5z" fill="#d03010"/><path d="M533 7.500h3" stroke="#d03010"/>
<path d="M554.500 0.500h8l3 3v9.500l-1 0.500h-9l-1-1z" fill="#fff" stroke="#808080"/>
<path d="M562.500 0.500v3h3" fill="none" stroke="#808080"/>
<path d="M557.500 4.500v6M557.500 4.500h2M557.500 10.500h2" stroke="#606060" fill="none"/>
<path d="M562.650 6.650h3.100v4.200h3.900v2.400h-3.900v4.100h-3.100v-4.100h-4v-2.400h4z" fill="#18e028" stroke="#088a10" stroke-width="0.900"/>
<path d="M575 7h6l-3 3.500z" fill="#000"/>
<path d="M614.5 7h6l-3 3.500z" fill="#000"/>
<path d="M653 7h6l-3 3.500z" fill="#000"/>
<path d="M959.5 7h6l-3 3.500z" fill="#000"/>
<circle cx="600" cy="8" r="8" fill="#1c5cc4"/>
<circle cx="600" cy="8" r="7" fill="#3a82e8"/>
<circle cx="600" cy="8" r="5.300" fill="#f4f6fa" stroke="#1848a0" stroke-width="0.500"/>
<path d="M599.500 4.500v4h2.800" fill="none" stroke="#505050" stroke-width="1.100"/>
<rect x="631.500" y="1.500" width="15" height="13" fill="#fff" stroke="#3878d8"/>
<rect x="632" y="2" width="14" height="2" fill="#3878d8"/>
<path d="M632 8.500h14" stroke="#3878d8"/>
<path d="M634 7l2.500-1 2-0.500 2.500 0.500 3-1.500" fill="none" stroke="#b02010" stroke-width="1.100"/>
<path d="M634 13l2.500-1.500 2 1 2.500-2 3 2" fill="none" stroke="#20a040" stroke-width="1.100"/>
<path d="M683 1v12.500l3-2.800 2.200 4.800 1.800-0.800-2.200-4.700h4.200z" fill="#404040"/>
<path d="M715.500 1.500v5.500M715.500 10v5.500M708 8.500h5.500M717.500 8.500h5.500" stroke="#404040" stroke-width="1" shape-rendering="crispEdges"/>
<path d="M749.500 2v13M771 8.500h13" stroke="#505050" stroke-width="1" shape-rendering="crispEdges"/>
<path d="M799.500 15l13-12.500" stroke="#606060" stroke-width="1"/>
<path d="M826 13l11-12M829 16l11-12M828 8l4 6M831 5l4 6M834 2l4 6" stroke="#606060" stroke-width="0.9" fill="none"/>
<text x="837" y="17" font-size="7" font-weight="bold" fill="#404040">E</text>
<g shape-rendering="crispEdges">
<path d="M855 1.5h13" stroke="#606060" stroke-dasharray="1 1"/>
<path d="M855 4.5h13" stroke="#606060" stroke-dasharray="1 1"/>
<path d="M855 8.5h13" stroke="#606060" stroke-dasharray="1 1"/>
<path d="M855 12.5h13" stroke="#606060" stroke-dasharray="1 1"/>
</g>
<text x="865" y="17" font-size="7" font-weight="bold" fill="#404040">F</text>
<text x="885.500" y="13" font-size="12.400" fill="#606060" stroke="#606060" stroke-width="0.300">A</text>
<rect x="912.500" y="2.500" width="11.500" height="12" fill="none" stroke="#606060" stroke-dasharray="1 1" shape-rendering="crispEdges"/>
<text x="913.700" y="12.600" font-size="10.600" fill="#606060" stroke="#606060" stroke-width="0.300" textLength="8.200" lengthAdjust="spacingAndGlyphs">T</text>
<path d="M939 5l3-3 3 3-3 2.500zM947 12l3-3 3 3-3 2.500z" fill="#404040"/>
<path d="M941 9l2.500 3 4.500-6" fill="none" stroke="#404040" stroke-width="1.500"/>
<text x="986" y="12.300" font-size="9.600" fill="#404040" textLength="13.5" lengthAdjust="spacingAndGlyphs">M1</text>
<text x="1014.5" y="12.300" font-size="9.600" fill="#404040" textLength="13" lengthAdjust="spacingAndGlyphs">M5</text>
<text x="1040.5" y="12.300" font-size="9.600" fill="#404040" textLength="17.5" lengthAdjust="spacingAndGlyphs">M15</text>
<text x="1069" y="12.300" font-size="9.600" fill="#404040" textLength="18" lengthAdjust="spacingAndGlyphs">M30</text>
<text x="1099.5" y="12.300" font-size="9.600" fill="#404040" textLength="12" lengthAdjust="spacingAndGlyphs">H1</text>
<text x="1127" y="12.300" font-size="9.600" fill="#404040" textLength="12.5" lengthAdjust="spacingAndGlyphs">H4</text>
<text x="1156" y="12.300" font-size="9.600" fill="#404040" textLength="11.5" lengthAdjust="spacingAndGlyphs">D1</text>
<text x="1183.5" y="12.300" font-size="9.600" fill="#404040" textLength="14" lengthAdjust="spacingAndGlyphs">W1</text>
<text x="1210" y="12.300" font-size="9.600" fill="#404040" textLength="14.5" lengthAdjust="spacingAndGlyphs">MN</text>
<path d="M1646.800 8.200l-4.800 4.800" stroke="#2a5ad0" stroke-width="2.600" stroke-linecap="round"/>
<circle cx="1649.800" cy="5" r="3.700" fill="#f4f8ff" stroke="#2a5ad0" stroke-width="1.300"/>
<path d="M1666.500 10a5 4.500 0 1 1 5 4.500l-2.500 2.500v-2.800a5 4.500 0 0 1-2.500-4.200z" fill="#e8eaf0" stroke="#a8a8a8" stroke-width="0.9"/>
<circle cx="1680.400" cy="5.300" r="8.200" fill="url(#gbadge)"/>
<text x="1680.400" y="9.600" font-size="12" fill="#fff" text-anchor="middle">1</text>
</g>
</svg>
</body></html>
